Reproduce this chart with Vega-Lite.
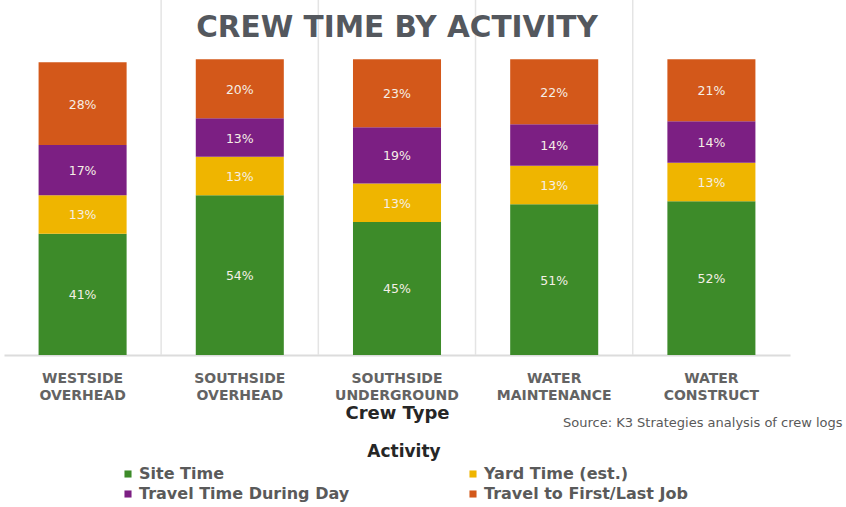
{
  "$schema": "https://vega.github.io/schema/vega-lite/v6.json",
  "autosize": "none",
  "width": 786,
  "height": 355,
  "padding": {"left": 4, "top": 0, "right": 56, "bottom": 152},
  "background": "white",
  "config": {"view": {"stroke": null}},
  "title": {
    "text": "CREW TIME BY ACTIVITY",
    "font": "DejaVu Sans",
    "fontSize": 29.5,
    "fontWeight": "bold",
    "color": "#54585e",
    "anchor": "middle",
    "frame": "group",
    "offset": -44
  },
  "data": {
    "values": [
      {"crew": "WESTSIDE OVERHEAD", "activity": "Site Time", "k": 1, "v": 0.41},
      {"crew": "WESTSIDE OVERHEAD", "activity": "Yard Time (est.)", "k": 2, "v": 0.13},
      {"crew": "WESTSIDE OVERHEAD", "activity": "Travel Time During Day", "k": 3, "v": 0.17},
      {"crew": "WESTSIDE OVERHEAD", "activity": "Travel to First/Last Job", "k": 4, "v": 0.28},
      {"crew": "SOUTHSIDE OVERHEAD", "activity": "Site Time", "k": 1, "v": 0.54},
      {"crew": "SOUTHSIDE OVERHEAD", "activity": "Yard Time (est.)", "k": 2, "v": 0.13},
      {"crew": "SOUTHSIDE OVERHEAD", "activity": "Travel Time During Day", "k": 3, "v": 0.13},
      {"crew": "SOUTHSIDE OVERHEAD", "activity": "Travel to First/Last Job", "k": 4, "v": 0.20},
      {"crew": "SOUTHSIDE UNDERGROUND", "activity": "Site Time", "k": 1, "v": 0.45},
      {"crew": "SOUTHSIDE UNDERGROUND", "activity": "Yard Time (est.)", "k": 2, "v": 0.13},
      {"crew": "SOUTHSIDE UNDERGROUND", "activity": "Travel Time During Day", "k": 3, "v": 0.19},
      {"crew": "SOUTHSIDE UNDERGROUND", "activity": "Travel to First/Last Job", "k": 4, "v": 0.23},
      {"crew": "WATER MAINTENANCE", "activity": "Site Time", "k": 1, "v": 0.51},
      {"crew": "WATER MAINTENANCE", "activity": "Yard Time (est.)", "k": 2, "v": 0.13},
      {"crew": "WATER MAINTENANCE", "activity": "Travel Time During Day", "k": 3, "v": 0.14},
      {"crew": "WATER MAINTENANCE", "activity": "Travel to First/Last Job", "k": 4, "v": 0.22},
      {"crew": "WATER CONSTRUCT", "activity": "Site Time", "k": 1, "v": 0.52},
      {"crew": "WATER CONSTRUCT", "activity": "Yard Time (est.)", "k": 2, "v": 0.13},
      {"crew": "WATER CONSTRUCT", "activity": "Travel Time During Day", "k": 3, "v": 0.14},
      {"crew": "WATER CONSTRUCT", "activity": "Travel to First/Last Job", "k": 4, "v": 0.21}
    ]
  },
  "layer": [
    {
      "mark": {"type": "bar"},
      "encoding": {
        "x": {
          "field": "crew",
          "type": "nominal",
          "sort": null,
          "scale": {"paddingInner": 0.44, "paddingOuter": 0.22},
          "axis": {
            "title": "Crew Type",
            "bandPosition": 0.5,
            "labelAngle": 0,
            "labelExpr": "split(datum.label, ' ')",
            "labelFont": "DejaVu Sans",
            "labelFontSize": 14,
            "labelFontWeight": "bold",
            "labelColor": "#636363",
            "labelLineHeight": 17,
            "labelPadding": 16,
            "ticks": false,
            "domainColor": "#dcdcdc",
            "domainWidth": 2,
            "grid": false,
            "titleFont": "DejaVu Sans",
            "titleFontSize": 18,
            "titleFontWeight": "bold",
            "titleColor": "#262626",
            "titlePadding": 2
          }
        },
        "y": {
          "field": "v",
          "type": "quantitative",
          "stack": "zero",
          "scale": {"domain": [0, 1.19]},
          "axis": null
        },
        "order": {"field": "k", "type": "quantitative"},
        "color": {
          "field": "activity",
          "type": "nominal",
          "scale": {
            "domain": ["Site Time", "Yard Time (est.)", "Travel Time During Day", "Travel to First/Last Job"],
            "range": ["#3d8b29", "#efb500", "#7c1f83", "#d3581a"]
          },
          "legend": {
            "orient": "none",
            "legendX": 116,
            "legendY": 444,
            "direction": "horizontal",
            "columns": 2,
            "title": "Activity",
            "titleAnchor": "middle",
            "titleFont": "DejaVu Sans",
            "titleFontSize": 17,
            "titleFontWeight": "bold",
            "titleColor": "#262626",
            "titlePadding": 5,
            "labelFont": "DejaVu Sans",
            "labelFontSize": 16,
            "labelFontWeight": "bold",
            "labelColor": "#5a5a5a",
            "labelLimit": 400,
            "labelOffset": 3,
            "symbolType": "square",
            "symbolSize": 50,
            "symbolStrokeWidth": 0,
            "columnPadding": 115,
            "rowPadding": 4
          }
        }
      }
    },
    {
      "transform": [
        {"filter": "datum.k == 1 && datum.crew != 'WATER CONSTRUCT'"}
      ],
      "mark": {"type": "rule", "color": "#e4e4e4", "strokeWidth": 1.5},
      "encoding": {
        "x": {"field": "crew", "type": "nominal", "sort": null, "bandPosition": 1.392}
      }
    },
    {
      "transform": [
        {"stack": "v", "groupby": ["crew"], "sort": [{"field": "k"}], "as": ["v0", "v1"]},
        {"calculate": "(datum.v0 + datum.v1) / 2", "as": "mid"}
      ],
      "mark": {"type": "text", "font": "DejaVu Sans", "fontSize": 12.5, "color": "#f5efe6", "baseline": "middle", "dy": 1},
      "encoding": {
        "x": {"field": "crew", "type": "nominal", "sort": null},
        "y": {"field": "mid", "type": "quantitative"},
        "text": {"field": "v", "type": "quantitative", "format": ".0%"}
      }
    },
    {
      "data": {"values": [{"t": "Source:  K3 Strategies analysis of crew logs"}]},
      "mark": {"type": "text", "font": "DejaVu Sans", "fontSize": 13, "color": "#595959", "align": "left", "baseline": "middle"},
      "encoding": {
        "x": {"value": 559},
        "y": {"value": 423},
        "text": {"field": "t", "type": "nominal"}
      }
    }
  ]
}
